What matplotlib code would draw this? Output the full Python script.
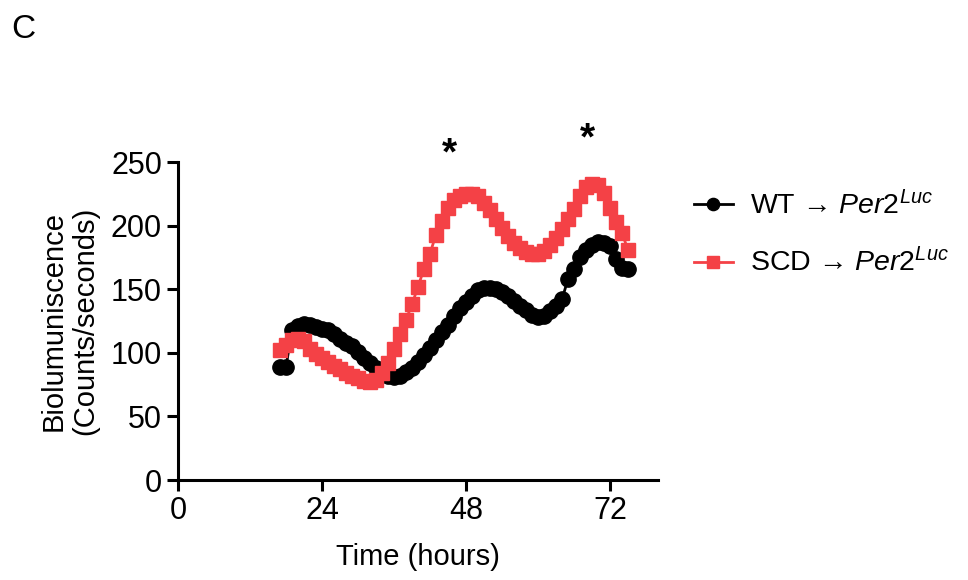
import numpy as np
import matplotlib
matplotlib.use('Agg')
import matplotlib.pyplot as plt

plt.rcParams['font.family'] = ['Liberation Sans', 'DejaVu Sans']
plt.rcParams['mathtext.fontset'] = 'custom'
plt.rcParams['mathtext.rm'] = 'Liberation Sans'
plt.rcParams['mathtext.it'] = 'Liberation Sans:italic'

# hourly readings
hours_wt = np.arange(17, 76)
wt = [89, 89, 118, 121, 123, 122, 120, 119, 118, 115,
      111, 108, 105, 101, 96, 92, 88, 85, 82, 81,
      82, 85, 88, 93, 98, 104, 110, 116, 122, 129,
      135, 140, 145, 149, 151, 151, 150, 148, 145, 141,
      137, 134, 130, 128, 129, 133, 137, 142, 158, 166,
      175, 181, 185, 187, 186, 184, 174, 167, 166]

hours_scd = np.arange(17, 76)
scd = [102, 106, 110, 111, 109, 103, 99, 96, 93, 90,
       87, 84, 82, 80, 78, 77, 79, 84, 92, 103,
       115, 126, 138, 152, 166, 178, 193, 204, 214, 220,
       223, 225, 225, 223, 218, 212, 205, 198, 192, 186,
       182, 179, 178, 178, 180, 185, 190, 197, 205, 213,
       223, 230, 233, 232, 226, 214, 203, 194, 181]

xticks = [0, 24, 48, 72]
yticks = [0, 50, 100, 150, 200, 250]
stars = [(45.3, 256), (68.2, 268)]

fig = plt.figure(figsize=(9.68, 5.8), dpi=100)
ax = fig.add_axes([178/968, 1 - 480/580, 480/968, 318/580])

red = '#f44146'
ax.plot(hours_wt, wt, color='black', marker='o', markersize=11, lw=2,
        label='WT → $\\mathit{Per2}^{\\mathit{Luc}}$', clip_on=False, zorder=2)
ax.plot(hours_scd, scd, color=red, marker='s', markersize=10.5, lw=2,
        label='SCD → $\\mathit{Per2}^{\\mathit{Luc}}$', clip_on=False, zorder=3)

ax.set_xlim(0, 80)
ax.set_ylim(0, 250)
ax.set_xticks(xticks)
ax.set_yticks(yticks)
for s in ['top', 'right']:
    ax.spines[s].set_visible(False)
for s in ['left', 'bottom']:
    ax.spines[s].set_linewidth(2.2)
ax.tick_params(width=2.2, length=8, labelsize=22, direction='out')
ax.set_xlabel('Time (hours)', fontsize=21, labelpad=12)
ax.set_ylabel('Biolumuniscence\n(Counts/seconds)', fontsize=21, labelpad=8)

for sx, sy in stars:
    ax.text(sx, sy, '*', fontsize=28, fontweight='bold', ha='center', va='center', clip_on=False)

handles, labels = ax.get_legend_handles_labels()
leg = fig.legend(handles, labels, loc='upper left', bbox_to_anchor=(0.69, 0.715),
                 frameon=False, fontsize=20.5, handlelength=1.4, labelspacing=1.0,
                 handletextpad=0.6, markerscale=0.8)

fig.text(0.012, 0.975, 'C', fontsize=24, va='top')

fig.savefig('out.png', dpi=100)
